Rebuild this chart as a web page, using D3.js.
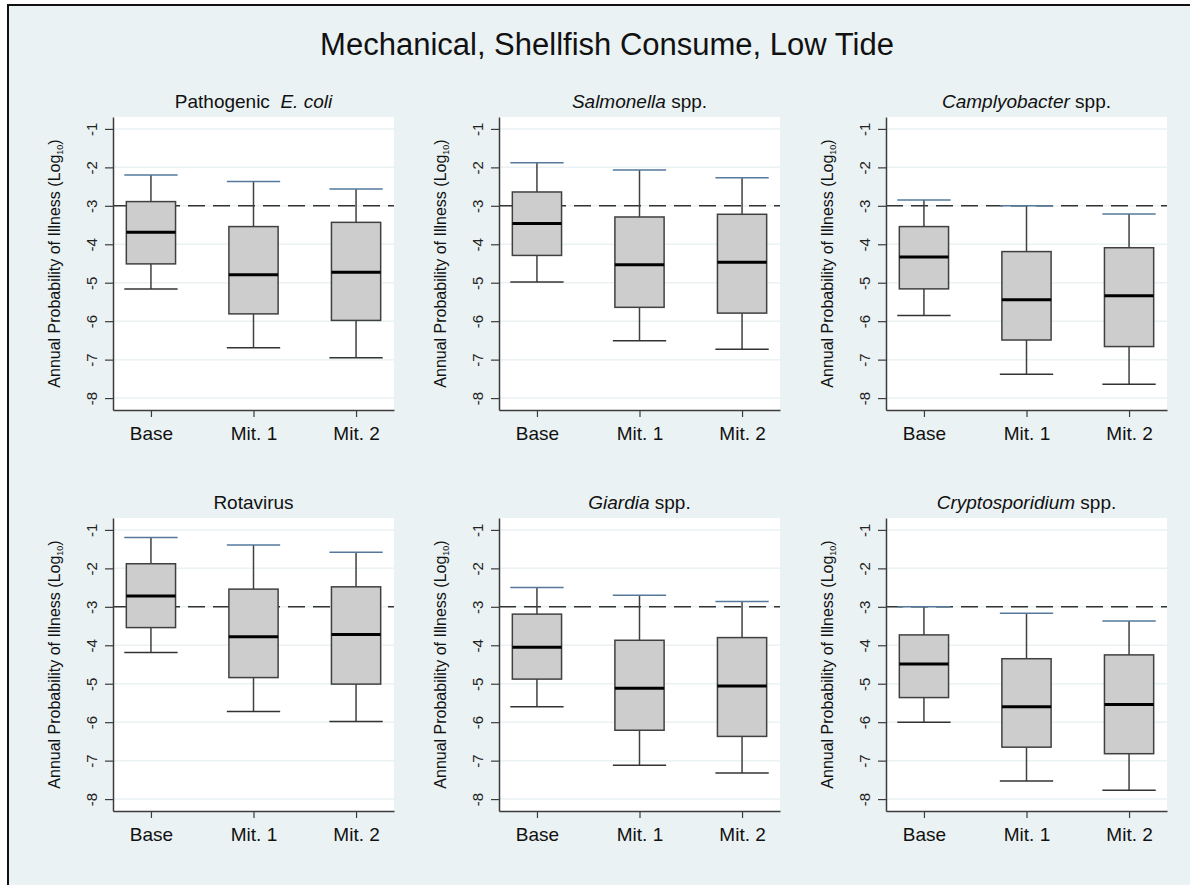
<!DOCTYPE html>
<html>
<head>
<meta charset="utf-8">
<script src="https://cdn.jsdelivr.net/npm/d3@7"></script>
<style>
  html, body { margin: 0; padding: 0; background: #fff; }
  svg { display: block; font-family: "Liberation Sans", Arial, sans-serif; }
</style>
</head>
<body>
<div id="chart"></div>
<script>
// data (log10 annual probability of illness)
const chartTitle = "Mechanical, Shellfish Consume, Low Tide";
const scenarios = ["Base", "Mit. 1", "Mit. 2"];
const yTicks = [-1, -2, -3, -4, -5, -6, -7, -8];
const threshold = -3;

// each title is split into [text, italic?] pieces
const panelTitles = [
    [["Pathogenic  ", false], ["E. coli", true]],
    [["Salmonella", true], [" spp.", false]],
    [["Camplyobacter", true], [" spp.", false]],
    [["Rotavirus", false]],
    [["Giardia", true], [" spp.", false]],
    [["Cryptosporidium", true], [" spp.", false]]
];

const whiskerHigh = [
    [-2.20, -2.37, -2.56],
    [-1.88, -2.07, -2.27],
    [-2.85, -3.00, -3.21],
    [-1.20, -1.39, -1.58],
    [-2.50, -2.70, -2.86],
    [-3.00, -3.17, -3.37]
];
const boxHigh = [
    [-2.89, -3.54, -3.43],
    [-2.64, -3.29, -3.22],
    [-3.54, -4.19, -4.09],
    [-1.88, -2.54, -2.48],
    [-3.19, -3.87, -3.80],
    [-3.73, -4.35, -4.25]
];
const medians = [
    [-3.69, -4.79, -4.73],
    [-3.46, -4.53, -4.47],
    [-4.33, -5.44, -5.34],
    [-2.72, -3.78, -3.72],
    [-4.05, -5.12, -5.06],
    [-4.49, -5.60, -5.54]
];
const boxLow = [
    [-4.51, -5.81, -5.98],
    [-4.29, -5.64, -5.79],
    [-5.16, -6.49, -6.66],
    [-3.54, -4.84, -5.01],
    [-4.88, -6.21, -6.37],
    [-5.36, -6.65, -6.82]
];
const whiskerLow = [
    [-5.16, -6.69, -6.95],
    [-4.98, -6.51, -6.73],
    [-5.85, -7.38, -7.64],
    [-4.19, -5.72, -5.98],
    [-5.60, -7.12, -7.32],
    [-6.00, -7.53, -7.77]
];

// 布局
const width = 1190, height = 885;
const colX = [113, 499, 886];
const rowY = [117, 518];
const plotW = 281, plotH = 293;

const colors = {
    bg: "#eaf2f3",
    grid: "#eaf2f3",
    axis: "#3c3c3c",
    boxFill: "#cdcdcd",
    boxStroke: "#404040",
    capTop: "#55799b",
    capLow: "#333333"
};

const svg = d3.select("#chart")
    .append("svg")
    .attr("width", width)
    .attr("height", height);

svg.append("rect")
    .attr("x", 8)
    .attr("y", 5)
    .attr("width", 1220)
    .attr("height", 920)
    .attr("fill", colors.bg)
    .attr("stroke", "#111")
    .attr("stroke-width", 2);

svg.append("text")
    .attr("x", 607)
    .attr("y", 55)
    .attr("text-anchor", "middle")
    .attr("font-size", 31)
    .attr("fill", "#111")
    .text(chartTitle);

const y = d3.scaleLinear()
    .domain([-8.31, -0.69])
    .range([plotH, 0]);

const x = d3.scalePoint()
    .domain(scenarios)
    .range([0, plotW])
    .padding(0.37);

const boxW = x.step() * 0.48;
const capW = x.step() * 0.52;

function drawPanel(i) {
    const g = svg.append("g")
        .attr("transform", `translate(${colX[i % 3]},${rowY[Math.floor(i / 3)]})`);

    g.append("rect")
        .attr("width", plotW)
        .attr("height", plotH)
        .attr("fill", "#fff");

    g.append("g")
        .selectAll("line")
        .data(yTicks)
        .join("line")
        .attr("x1", 0)
        .attr("x2", plotW)
        .attr("y1", d => y(d))
        .attr("y2", d => y(d))
        .attr("stroke", colors.grid)
        .attr("stroke-width", 1.5);

    g.append("line")
        .attr("x1", 0)
        .attr("x2", plotW)
        .attr("y1", y(threshold))
        .attr("y2", y(threshold))
        .attr("stroke", "#333")
        .attr("stroke-width", 1.5)
        .attr("stroke-dasharray", "17,8");

    const rows = scenarios.map((s, j) => ({
        s,
        hi: whiskerHigh[i][j],
        q3: boxHigh[i][j],
        med: medians[i][j],
        q1: boxLow[i][j],
        lo: whiskerLow[i][j]
    }));

    const box = g.append("g")
        .selectAll("g")
        .data(rows)
        .join("g")
        .attr("transform", d => `translate(${x(d.s)},0)`);

    box.append("line")
        .attr("y1", d => y(d.hi))
        .attr("y2", d => y(d.lo))
        .attr("stroke", colors.boxStroke)
        .attr("stroke-width", 1.5);

    box.append("rect")
        .attr("x", -boxW / 2)
        .attr("width", boxW)
        .attr("y", d => y(d.q3))
        .attr("height", d => y(d.q1) - y(d.q3))
        .attr("fill", colors.boxFill)
        .attr("stroke", colors.boxStroke)
        .attr("stroke-width", 1.5);

    box.append("line")
        .attr("x1", -boxW / 2)
        .attr("x2", boxW / 2)
        .attr("y1", d => y(d.med))
        .attr("y2", d => y(d.med))
        .attr("stroke", "#000")
        .attr("stroke-width", 3);

    box.append("line")
        .attr("x1", -capW / 2)
        .attr("x2", capW / 2)
        .attr("y1", d => y(d.hi))
        .attr("y2", d => y(d.hi))
        .attr("stroke", colors.capTop)
        .attr("stroke-width", 1.5);

    box.append("line")
        .attr("x1", -capW / 2)
        .attr("x2", capW / 2)
        .attr("y1", d => y(d.lo))
        .attr("y2", d => y(d.lo))
        .attr("stroke", colors.capLow)
        .attr("stroke-width", 1.5);

    // y axis, labels rotated like the original (plain hyphen minus)
    g.append("g")
        .call(d3.axisLeft(y).tickValues(yTicks).tickSize(8).tickSizeOuter(0).tickFormat(d => String(d)))
        .call(a => a.select(".domain").attr("stroke", colors.axis).attr("stroke-width", 1.5))
        .call(a => a.selectAll(".tick line").attr("stroke", colors.axis).attr("stroke-width", 1.2))
        .call(a => a.selectAll(".tick text")
            .attr("transform", "rotate(-90)")
            .attr("x", 0)
            .attr("y", -21)
            .attr("dy", "0.35em")
            .attr("text-anchor", "middle")
            .attr("font-size", 15)
            .attr("font-family", null)
            .attr("fill", "#222"));

    g.append("g")
        .attr("transform", `translate(0,${plotH})`)
        .call(d3.axisBottom(x).tickSize(7).tickSizeOuter(0))
        .call(a => a.select(".domain").attr("stroke", colors.axis).attr("stroke-width", 1.5))
        .call(a => a.selectAll(".tick line").attr("stroke", colors.axis).attr("stroke-width", 1.2))
        .call(a => a.selectAll(".tick text")
            .attr("y", 17)
            .attr("dy", "0.71em")
            .attr("font-size", 19)
            .attr("font-family", null)
            .attr("fill", "#111"));

    const yLabel = g.append("text")
        .attr("transform", `translate(-53,${plotH / 2}) rotate(-90)`)
        .attr("text-anchor", "middle")
        .attr("font-size", 16)
        .attr("fill", "#111");
    yLabel.append("tspan").text("Annual Probability of Illness (Log");
    yLabel.append("tspan").attr("font-size", 9).attr("dy", 3).text("10");
    yLabel.append("tspan").attr("dy", -3).text(")");

    const title = g.append("text")
        .attr("x", plotW / 2)
        .attr("y", -9)
        .attr("text-anchor", "middle")
        .attr("font-size", 19)
        .attr("fill", "#111");
    panelTitles[i].forEach(([t, it]) => {
        title.append("tspan")
            .attr("font-style", it ? "italic" : null)
            .style("white-space", "pre")
            .text(t);
    });
}

for (let i = 0; i < 6; i++) drawPanel(i);
</script>
</body>
</html>
